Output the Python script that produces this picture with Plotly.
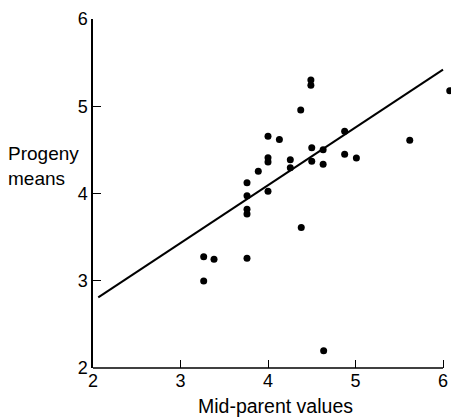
import plotly.graph_objects as go

mid_parent = [3.265, 3.265, 3.383, 3.76, 3.76, 3.76, 3.76, 3.76, 3.889,
              4.00, 4.00, 4.00, 4.00, 4.13, 4.255, 4.255, 4.374, 4.38,
              4.49, 4.49, 4.50, 4.50, 4.63, 4.63, 4.636, 4.876, 4.876,
              5.01, 5.62, 6.077]
progeny = [3.276, 2.997, 3.246, 4.124, 3.975, 3.82, 3.765, 3.257, 4.254,
           4.656, 4.41, 4.36, 4.025, 4.62, 4.387, 4.296, 4.957, 3.61,
           5.30, 5.24, 4.525, 4.37, 4.502, 4.335, 2.198, 4.713, 4.449,
           4.407, 4.61, 5.178]
line_x = [2.06, 6.0]
line_y = [2.81, 5.42]
tick_vals = [2, 3, 4, 5, 6]

FONT = "Liberation Sans, Arial, Helvetica, sans-serif"

fig = go.Figure()
fig.add_trace(go.Scatter(x=line_x, y=line_y, mode="lines",
                         line=dict(color="black", width=2),
                         hoverinfo="skip", showlegend=False, cliponaxis=False))
fig.add_trace(go.Scatter(x=mid_parent, y=progeny, mode="markers",
                         marker=dict(color="black", size=7),
                         showlegend=False, cliponaxis=False))

tick_common = dict(tickvals=tick_vals, ticks="inside",
                   ticklen=8, tickwidth=1.2, tickcolor="black",
                   showgrid=False, zeroline=False,
                   tickfont=dict(family=FONT, size=18, color="black"))

fig.update_layout(
    width=451, height=418,
    margin=dict(l=93, r=0, t=19, b=50, autoexpand=False),
    plot_bgcolor="white", paper_bgcolor="white",
    xaxis=dict(range=[2, 6.0914], showline=False, **tick_common),
    yaxis=dict(range=[2, 6], showline=True, linecolor="black", linewidth=1.5,
               **tick_common),
    shapes=[dict(type="line", xref="x", yref="paper", x0=2, x1=6, y0=0, y1=0,
                 line=dict(color="black", width=1.5), layer="above")],
    annotations=[
        dict(text="Mid-parent values", xref="paper", yref="paper",
             x=0.5086, y=-0.1103, xanchor="center", yanchor="middle",
             showarrow=False, font=dict(family=FONT, size=19.5, color="black")),
        dict(text="Progeny<br>means", xref="paper", yref="paper",
             x=-0.243, y=0.5797, xanchor="left", yanchor="middle", align="left",
             showarrow=False, font=dict(family=FONT, size=19, color="black")),
    ],
)

fig.write_html("out.html",
               config={"displayModeBar": False},
               post_script="document.body.style.margin='0';"
                           "document.body.style.overflow='hidden';")
